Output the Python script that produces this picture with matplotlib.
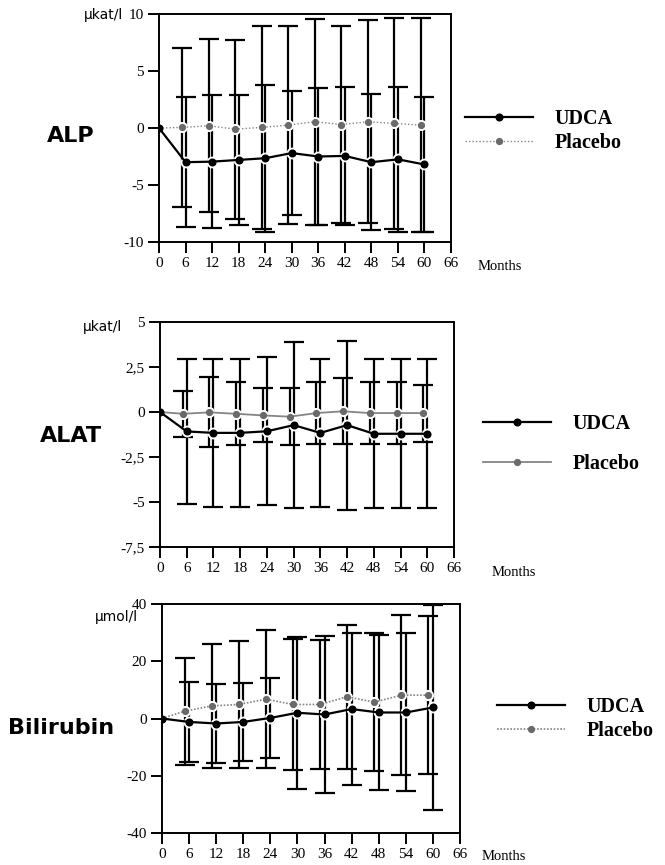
import numpy as np
import matplotlib.pyplot as plt

plt.rcParams['axes.unicode_minus'] = False

months = [0, 6, 12, 18, 24, 30, 36, 42, 48, 54, 60]
xticks = [0, 6, 12, 18, 24, 30, 36, 42, 48, 54, 60, 66]

# ALP (ukat/l), change from baseline, mean and SD
alp_udca = [0, -3.0, -2.95, -2.8, -2.65, -2.2, -2.5, -2.45, -3.0, -2.75, -3.2]
alp_udca_sd = [0, 5.7, 5.85, 5.7, 6.45, 5.45, 6.0, 6.05, 5.95, 6.35, 5.9]
alp_plac = [0, 0.05, 0.2, -0.1, 0.05, 0.25, 0.55, 0.3, 0.55, 0.4, 0.25]
alp_plac_sd = [0, 6.95, 7.6, 7.85, 8.9, 8.7, 9.05, 8.65, 8.9, 9.25, 9.4]

# ALAT (ukat/l)
alat_udca = [0, -1.08, -1.16, -1.16, -1.07, -0.73, -1.16, -0.73, -1.21, -1.21, -1.21]
alat_udca_sd = [0, 4.05, 4.12, 4.12, 4.1, 4.6, 4.1, 4.7, 4.13, 4.13, 4.13]
alat_plac = [0, -0.1, -0.02, -0.1, -0.19, -0.26, -0.06, 0.04, -0.06, -0.06, -0.06]
alat_plac_sd = [0, 1.27, 1.95, 1.74, 1.5, 1.6, 1.72, 1.84, 1.73, 1.74, 1.58]

# Bilirubin (umol/l)
bili_udca = [0, -1.2, -1.75, -1.2, 0.2, 2.0, 1.4, 3.3, 2.1, 2.1, 3.85]
bili_udca_sd = [0, 14.0, 13.7, 13.5, 13.9, 26.6, 27.3, 26.7, 27.1, 27.6, 35.9]
bili_plac = [0, 2.55, 4.4, 4.9, 6.75, 4.9, 4.9, 7.6, 5.7, 8.15, 8.15]
bili_plac_sd = [0, 18.7, 21.6, 22.1, 24.2, 22.9, 22.5, 25.1, 24.2, 27.9, 27.6]

W, H = 665, 865
fig = plt.figure(figsize=(W / 100, H / 100), dpi=100)


def fx(x):
    return x / W


def fy(y):
    return 1 - y / H


serif = 'Liberation Serif'
tick_font = dict(family=serif, size=11)
leg_font = dict(family=serif, size=14.5, weight='bold')


def panel(box, udca, udca_sd, plac, plac_sd, ylim, yticks, yticklabels,
          plac_ls, plac_lw, offset, name, name_xy, unit, unit_xy,
          leg_xy, leg_space, months_xy):
    l, t, r, b = box
    ax = fig.add_axes([fx(l), fy(b), fx(r - l), (b - t) / H])
    x = np.array(months, dtype=float)
    xp = x + offset
    xp[0] = 0
    ax.errorbar(xp[1:], plac[1:], yerr=plac_sd[1:], fmt='none', ecolor='black',
                elinewidth=1.6, capsize=7.5, capthick=1.6, zorder=2)
    ax.errorbar(x[1:], udca[1:], yerr=udca_sd[1:], fmt='none', ecolor='black',
                elinewidth=1.6, capsize=7.5, capthick=1.6, zorder=2)
    # white halos that cut the error bars around the means
    ax.plot(xp, plac, ls='none', marker='o', ms=8, mfc='white', mec='none', zorder=2.5)
    ax.plot(x, udca, ls='none', marker='o', ms=8.5, mfc='white', mec='none', zorder=2.5)
    lp, = ax.plot(xp, plac, color='#858585', ls=plac_ls, lw=plac_lw, marker='o',
                  ms=4.2, mfc='#6a6a6a', mec='#6a6a6a', zorder=3, label='Placebo')
    lu, = ax.plot(x, udca, color='black', lw=1.6, marker='o', ms=4.8,
                  mfc='black', mec='black', zorder=4, label='UDCA')
    ax.set_xlim(0, 66)
    ax.set_ylim(*ylim)
    ax.set_xticks(xticks)
    ax.set_xticklabels([str(v) for v in xticks], **tick_font)
    ax.set_yticks(yticks)
    ax.set_yticklabels(yticklabels, **tick_font)
    ax.tick_params(direction='out', length=8, width=1.4, pad=3)
    for s in ax.spines.values():
        s.set_linewidth(1.4)
    fig.text(fx(name_xy[0]), fy(name_xy[1]), name, family='DejaVu Sans',
             weight='bold', size=16, ha='left', va='center')
    fig.text(fx(unit_xy[0]), fy(unit_xy[1]), unit, family='DejaVu Sans',
             size=10, ha='right', va='center')
    fig.text(fx(months_xy[0]), fy(months_xy[1]), 'Months', family=serif,
             size=10.5, ha='left', va='center')
    ax.legend(handles=[lu, lp], loc='center left',
              bbox_to_anchor=(fx(leg_xy[0]), fy(leg_xy[1])),
              bbox_transform=fig.transFigure, frameon=False, prop=leg_font,
              handlelength=3.4, handletextpad=1.05, borderpad=0,
              borderaxespad=0, labelspacing=leg_space, numpoints=1)
    return ax


panel((159, 14, 451, 242), alp_udca, alp_udca_sd, alp_plac, alp_plac_sd,
      (-10, 10), [-10, -5, 0, 5, 10], ['-10', '-5', '0', '5', '10'],
      (0, (1, 1.5)), 1.0, -0.8, 'ALP', (47, 136), '\u03bckat/l', (123, 15),
      (465, 131), 0.2, (478, 266))

panel((160, 322, 454, 547), alat_udca, alat_udca_sd, alat_plac, alat_plac_sd,
      (-7.5, 5), [-7.5, -5, -2.5, 0, 2.5, 5],
      ['-7,5', '-5', '-2,5', '0', '2,5', '5'],
      '-', 1.3, -0.9, 'ALAT', (40, 436), '\u03bckat/l', (122, 327),
      (483, 444), 0.95, (492, 573))

panel((162, 604, 460, 833), bili_udca, bili_udca_sd, bili_plac, bili_plac_sd,
      (-40, 40), [-40, -20, 0, 20, 40], ['-40', '-20', '0', '20', '40'],
      (0, (1, 1)), 1.2, -1.0, 'Bilirubin', (8, 728), '\u03bcmol/l', (138, 617),
      (497, 719), 0.2, (482, 857))

fig.savefig('out.png', dpi=100)
